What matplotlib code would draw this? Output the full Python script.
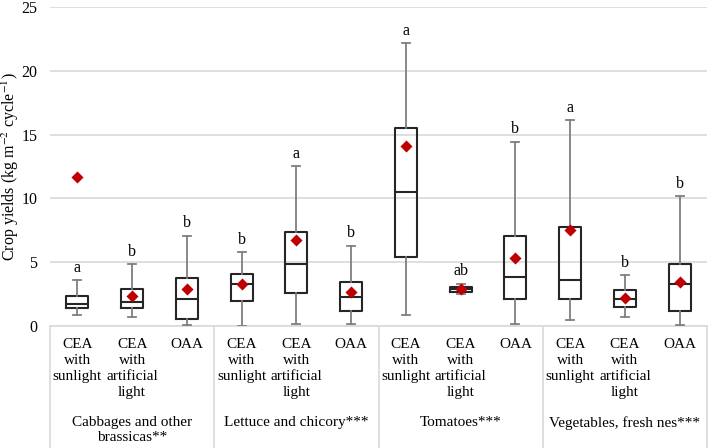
import matplotlib
matplotlib.use("Agg")
import matplotlib.pyplot as plt

plt.rcParams['font.family'] = ['Liberation Serif', 'DejaVu Serif']
plt.rcParams['mathtext.fontset'] = 'stix'

# DATA ----------------
groups = ["Cabbages and other\nbrassicas**", "Lettuce and chicory***",
          "Tomatoes***", "Vegetables, fresh nes***"]
systems = ["CEA\nwith\nsunlight", "CEA\nwith\nartificial\nlight", "OAA"]

whisker_low = [0.86, 0.68, 0.08, 0.00, 0.13, 0.13, 0.86, 2.50, 0.18, 0.47, 0.73, 0.08]
q1 =          [1.39, 1.44, 0.52, 1.96, 2.61, 1.18, 5.38, 2.64, 2.09, 2.09, 1.46, 1.18]
medians =     [1.70, 1.86, 2.14, 3.32, 4.86, 2.30, 10.48, 2.90, 3.81, 3.60, 2.09, 3.27]
q3 =          [2.35, 2.93, 3.79, 4.05, 7.34, 3.42, 15.54, 3.08, 7.08, 7.78, 2.80, 4.83]
whisker_high = [3.60, 4.83, 7.08, 5.77, 12.54, 6.30, 22.18, 3.32, 14.45, 16.17, 4.02, 10.16]
means =       [11.65, 2.38, 2.93, 3.32, 6.77, 2.69, 14.10, 2.92, 5.35, 7.50, 2.22, 3.45]
letters = ["a", "b", "b", "b", "a", "b", "a", "ab", "b", "a", "b", "b"]

#STYLE ----------------
COLOR_BOX = "#262626"
COLOR_WHISKER = "#7f7f7f"
COLOR_MEAN = "#c00000"
COLOR_GRID = "#d9d9d9"
FS = 11

fig = plt.figure(figsize=(7.09, 4.48), dpi=100)
ax = fig.add_axes([50 / 709, 122 / 448, 657 / 709, 319 / 448])

stats = []
for i in range(len(medians)):
    stats.append(dict(whislo=whisker_low[i], q1=q1[i], med=medians[i],
                      q3=q3[i], whishi=whisker_high[i], fliers=[]))

positions = list(range(1, len(stats) + 1))
ax.bxp(stats, positions=positions, widths=0.4, showfliers=False,
       boxprops=dict(color=COLOR_BOX, linewidth=1.5),
       medianprops=dict(color=COLOR_BOX, linewidth=1.5),
       whiskerprops=dict(color=COLOR_WHISKER, linewidth=1.3),
       capprops=dict(color=COLOR_WHISKER, linewidth=1.3),
       capwidths=0.15, zorder=3)
ax.scatter(positions, means, marker="D", s=38, color=COLOR_MEAN, zorder=4,
           linewidths=0)

for p, top, lab in zip(positions, whisker_high, letters):
    ax.annotate(lab, (p, top), xytext=(0, 3), textcoords="offset points",
                ha="center", va="bottom", fontsize=FS + 0.5)

ax.set_xlim(0.5, len(stats) + 0.5)
ax.set_ylim(0, 25)
ax.set_yticks([0, 5, 10, 15, 20, 25])
ax.yaxis.grid(True, color=COLOR_GRID, linewidth=1.2, zorder=0)
ax.set_axisbelow(True)
for s in ["top", "right", "left"]:
    ax.spines[s].set_visible(False)
ax.spines["bottom"].set_color(COLOR_GRID)
ax.spines["bottom"].set_linewidth(1.2)
ax.set_xticks([])
ax.tick_params(axis="y", length=0, pad=9, labelsize=FS + 0.5)
ax.set_ylabel(r"Crop yields (kg m$^{-2}$ cycle$^{-1}$)", fontsize=FS + 0.5)
ax.yaxis.label.set_va("center")
ax.yaxis.set_label_coords(-0.060, 0.5)

# category axis below the plot
trans = ax.get_xaxis_transform()
for k in range(len(groups) + 1):
    x = 0.5 + 3 * k
    ax.plot([x, x], [0, -0.4], transform=trans, color=COLOR_GRID,
            linewidth=1.2, clip_on=False)
for p in positions:
    ax.text(p, -0.038, systems[(p - 1) % 3], transform=trans, ha="center",
            va="top", fontsize=FS, linespacing=1.3)
for g, name in enumerate(groups):
    ax.text(2 + 3 * g, -0.283, name, transform=trans, ha="center", va="top",
            fontsize=FS, linespacing=1.2)

fig.savefig("out.png", dpi=100)
